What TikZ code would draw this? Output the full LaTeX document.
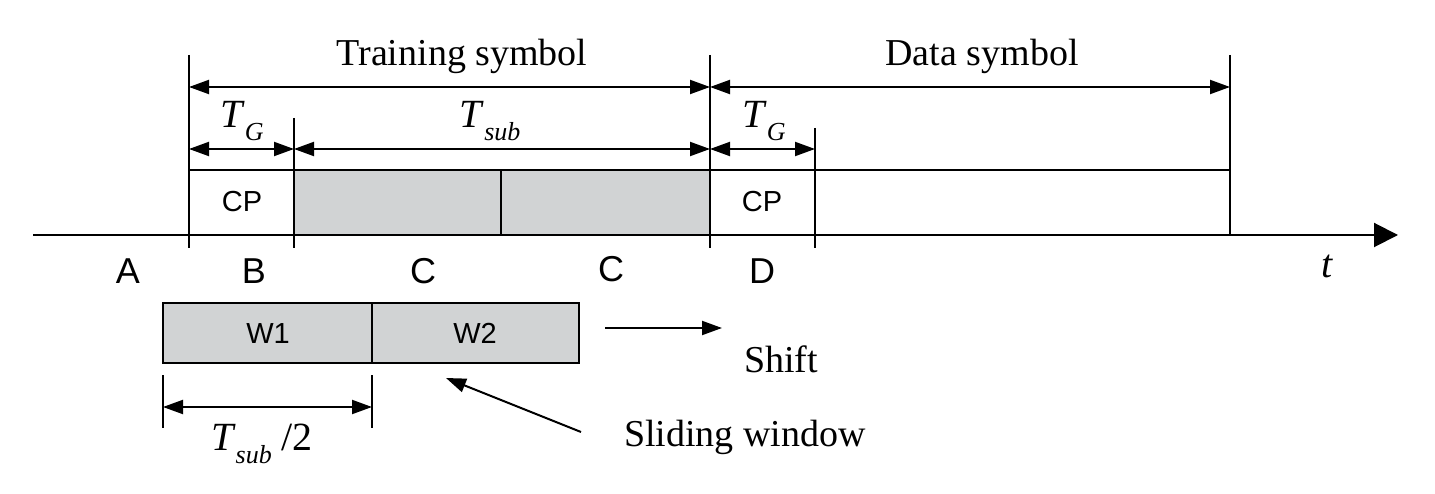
\documentclass[tikz,border=0pt]{standalone}
\usepackage{fontspec}
\setmainfont{Liberation Serif}
\setsansfont{Liberation Sans}
\usetikzlibrary{arrows.meta}
\definecolor{boxgray}{HTML}{D1D3D4}
\begin{document}
\begin{tikzpicture}[x=1pt,y=-1pt,
  ln/.style={line width=2pt},
  dim/.style={line width=2pt,{Triangle[length=20pt,width=14pt]}-{Triangle[length=20pt,width=14pt]}},
  sarr/.style={line width=2pt,-{Triangle[length=20pt,width=14pt]}},
  lab/.style={font=\fontsize{38}{40}\selectfont,inner sep=0pt},
  slab/.style={font=\sffamily\fontsize{36}{38}\selectfont,inner sep=0pt},
  blab/.style={font=\sffamily\fontsize{29}{31}\selectfont,inner sep=0pt,anchor=base},
  mlab/.style={font=\fontsize{40}{42}\selectfont,inner sep=0pt}]
\useasboundingbox (0,0) rectangle (1435,494);
% coordinates
\coordinate (a0) at (33,235);
\coordinate (a1) at (1398,235);
% boxes
\fill[boxgray] (294,170) rectangle (710,235);
\fill[boxgray] (163,303) rectangle (579,363);
\draw[ln] (189,170) -- (1230,170);
\draw[ln] (501,170) -- (501,235);
\draw[ln] (163,303) rectangle (579,363);
\draw[ln] (372,303) -- (372,363);
% verticals
\coordinate (v1t) at (189,55); \coordinate (v1b) at (189,248);
\coordinate (v2t) at (294,118); \coordinate (v2b) at (294,248);
\coordinate (v3t) at (710,55); \coordinate (v3b) at (710,248);
\coordinate (v4t) at (815,128); \coordinate (v4b) at (815,248);
\coordinate (v5t) at (1230,55); \coordinate (v5b) at (1230,235);
\draw[ln] (v1t) -- (v1b);
\draw[ln] (v2t) -- (v2b);
\draw[ln] (v3t) -- (v3b);
\draw[ln] (v4t) -- (v4b);
\draw[ln] (v5t) -- (v5b);
% axis
\draw[line width=2pt,-{Triangle[length=24pt,width=24pt]}] (a0) -- (a1);
% dimension arrows
\coordinate (d1a) at (189,87); \coordinate (d1b) at (710,87);
\coordinate (d2b) at (1230,87);
\draw[dim] (d1a) -- (d1b);
\draw[dim] (d1b) -- (d2b);
\coordinate (e1) at (189,149); \coordinate (e2) at (294,149);
\coordinate (e3) at (710,149); \coordinate (e4) at (815,149);
\draw[dim] (e1) -- (e2);
\draw[dim] (e2) -- (e3);
\draw[dim] (e3) -- (e4);
% labels
\node[lab,anchor=base] (ts) at (462,66) {Training symbol};
\node[lab,anchor=base] (ds) at (982,66) {Data symbol};
\node[mlab,anchor=base] (tg1) at (242,128) {\textit{T}\raisebox{-13pt}{\fontsize{26}{28}\selectfont\textit{G}}};
\node[mlab,anchor=base] (tsub) at (490,128) {\textit{T}\raisebox{-13pt}{\fontsize{26}{28}\selectfont\textit{sub}}};
\node[mlab,anchor=base] (tg2) at (764,128) {\textit{T}\raisebox{-13pt}{\fontsize{26}{28}\selectfont\textit{G}}};
\node[blab] (cp1) at (242,212) {CP};
\node[blab] (cp2) at (762,212) {CP};
\node[slab,anchor=base] (la) at (128,284) {A};
\node[slab,anchor=base] (lb) at (254,284) {B};
\node[slab,anchor=base] (lc1) at (423,284) {C};
\node[slab,anchor=base] (lc2) at (611,282) {C};
\node[slab,anchor=base] (ld) at (762,284) {D};
\node[mlab,anchor=base] (lt) at (1327,278) {\textit{t}};
\node[blab] (w1) at (268,344) {W1};
\node[blab] (w2) at (475,344) {W2};
% shift
\coordinate (s0) at (605,328); \coordinate (s1) at (722,328);
\draw[sarr] (s0) -- (s1);
\node[lab,anchor=base] (shift) at (781,372) {Shift};
% Tsub/2
\coordinate (h1t) at (163,375); \coordinate (h1b) at (163,428);
\coordinate (h2t) at (372,375); \coordinate (h2b) at (372,428);
\draw[ln] (h1t) -- (h1b);
\draw[ln] (h2t) -- (h2b);
\coordinate (h1) at (163,407); \coordinate (h2) at (372,407);
\draw[dim] (h1) -- (h2);
\node[mlab,anchor=base] (half) at (262,450) {\textit{T}\raisebox{-13pt}{\fontsize{26}{28}\selectfont\textit{sub}}\ /2};
% sliding window
\coordinate (sw0) at (581,432); \coordinate (sw1) at (446,378);
\draw[sarr] (sw0) -- (sw1);
\node[lab,anchor=base] (sw) at (745,446) {Sliding window};
\end{tikzpicture}
\end{document}
